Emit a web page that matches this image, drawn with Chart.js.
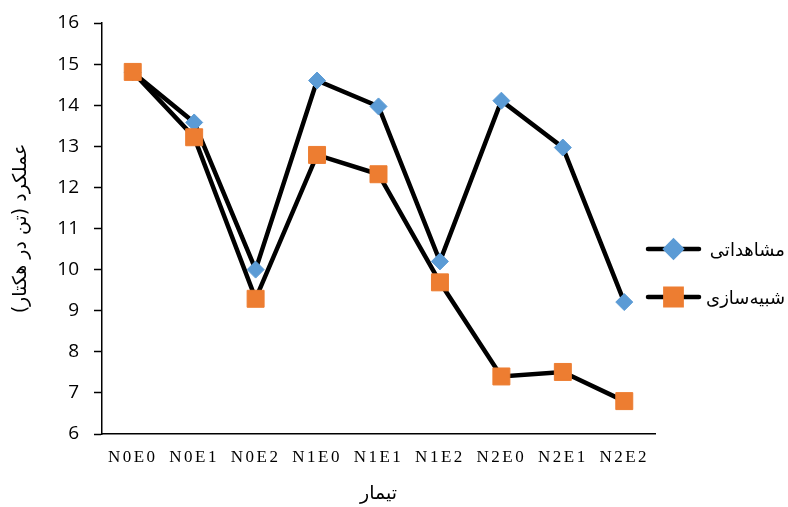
<!DOCTYPE html>
<html>
<head>
<meta charset="utf-8">
<title>عملکرد</title>
<script src="https://cdn.jsdelivr.net/npm/chart.js@4.4.1/dist/chart.umd.min.js"></script>
<style>
  html, body { margin: 0; padding: 0; background: #fff; }
  #chart { display: block; }
</style>
</head>
<body>
<canvas id="chart" width="788" height="507" dir="rtl"></canvas>
<script>
// ---------------------------------------------------------------------------
// Data
// ---------------------------------------------------------------------------

const categories = ["N0E0", "N0E1", "N0E2", "N1E0", "N1E1", "N1E2", "N2E0", "N2E1", "N2E2"];
const observed   = [14.8, 13.58, 10.0, 14.6, 13.97, 10.2, 14.11, 12.97, 9.21];
const simulated  = [14.81, 13.22, 9.29, 12.79, 12.32, 9.69, 7.40, 7.51, 6.80];
const yTicks     = [6, 7, 8, 9, 10, 11, 12, 13, 14, 15, 16];
const seriesNames = ["مشاهداتی", "شبیه‌سازی"];
const xTitle = "تیمار";
const yTitle = "عملکرد (تن در هکتار)";

const BLUE = "#5B9BD5";
const ORANGE = "#ED7D31";

// ---------------------------------------------------------------------------
// Plugins
// ---------------------------------------------------------------------------

// spaced-out category labels, like the Word/Excel original
const spacedLabels = {
  id: "spacedLabels",
  beforeDraw(chart) {
    const s = chart.scales.x;
    if (s._spaced) return;
    const orig = s.drawLabels.bind(s);
    s.drawLabels = function (area) {
      chart.ctx.letterSpacing = "2.5px";
      orig(area);
      chart.ctx.letterSpacing = "0px";
    };
    s._spaced = true;
  },
};

// legend on the right: line + marker + text
const lineLegend = {
  id: "lineLegend",
  afterDraw(chart) {
    const ctx = chart.ctx;
    const rows = [249, 297];
    // legend order follows the picture: observed first
    const sets = [chart.data.datasets[1], chart.data.datasets[0]];
    sets.forEach((ds, i) => {
      const y = rows[i];
      ctx.save();
      ctx.strokeStyle = ds.borderColor;
      ctx.lineWidth = ds.borderWidth;
      ctx.lineCap = "round";
      ctx.beginPath();
      ctx.moveTo(648, y);
      ctx.lineTo(699, y);
      ctx.stroke();
      ctx.fillStyle = ds.pointBackgroundColor;
      ctx.strokeStyle = ds.pointBorderColor;
      Chart.helpers.drawPoint(ctx, {
        pointStyle: ds.pointStyle,
        radius: ds.pointRadius - 0.5,
        borderWidth: ds.pointBorderWidth,
      }, 673.5, y);
      ctx.fillStyle = "#000";
      ctx.font = "18px 'DejaVu Sans'";
      ctx.textAlign = "right";
      ctx.textBaseline = "middle";
      ctx.fillText(ds.label, 785, y + 2);
      ctx.restore();
    });
  },
};

// ---------------------------------------------------------------------------
// Chart
// ---------------------------------------------------------------------------

new Chart(document.getElementById("chart"), {
  type: "line",
  data: {
    labels: categories,
    datasets: [
      {
        label: seriesNames[1],
        data: simulated,
        order: 0,
        borderColor: "#000",
        borderWidth: 4.5,
        tension: 0,
        pointStyle: "rect",
        pointRadius: 12,
        pointBackgroundColor: ORANGE,
        pointBorderColor: ORANGE,
        pointBorderWidth: 1,
      },
      {
        label: seriesNames[0],
        data: observed,
        order: 1,
        borderColor: "#000",
        borderWidth: 4.5,
        tension: 0,
        pointStyle: "rectRot",
        pointRadius: 8.5,
        pointBackgroundColor: BLUE,
        pointBorderColor: BLUE,
        pointBorderWidth: 1,
      },
    ],
  },
  options: {
    responsive: false,
    animation: false,
    layout: { padding: { left: 0, top: 23, right: 133, bottom: 0 } },
    plugins: {
      legend: { display: false },
      tooltip: { enabled: false },
    },
    scales: {
      x: {
        type: "category",
        offset: true,
        grid: { drawOnChartArea: false, drawTicks: false },
        border: { display: true, color: "#000", width: 1.5 },
        ticks: {
          autoSkip: false,
          maxRotation: 0,
          padding: 13,
          color: "#000",
          font: { family: "'Liberation Serif'", size: 17 },
        },
        title: {
          display: true,
          text: xTitle,
          color: "#000",
          font: { family: "'DejaVu Sans'", size: 19 },
          padding: { top: 4, bottom: 2 },
        },
        afterFit: (s) => { s.height = 73; },
      },
      y: {
        min: 6,
        max: 16,
        grid: { drawOnChartArea: false, drawTicks: true, tickLength: 8, tickWidth: 1.5, tickColor: "#000" },
        border: { display: true, color: "#000", width: 1.5 },
        ticks: {
          padding: 15,
          color: "#000",
          font: { family: "'Open Sans'", size: 19 },
        },
        afterBuildTicks: (s) => { s.ticks = yTicks.map((v) => ({ value: v })); },
        title: {
          display: true,
          text: yTitle,
          color: "#000",
          font: { family: "'DejaVu Sans'", size: 19 },
          padding: { top: 10, bottom: 0 },
        },
        afterFit: (s) => {
          s.width = 102;
          s.paddingTop = 0;
          s.paddingBottom = 0;
        },
      },
    },
  },
  plugins: [spacedLabels, lineLegend],
});
</script>
</body>
</html>
